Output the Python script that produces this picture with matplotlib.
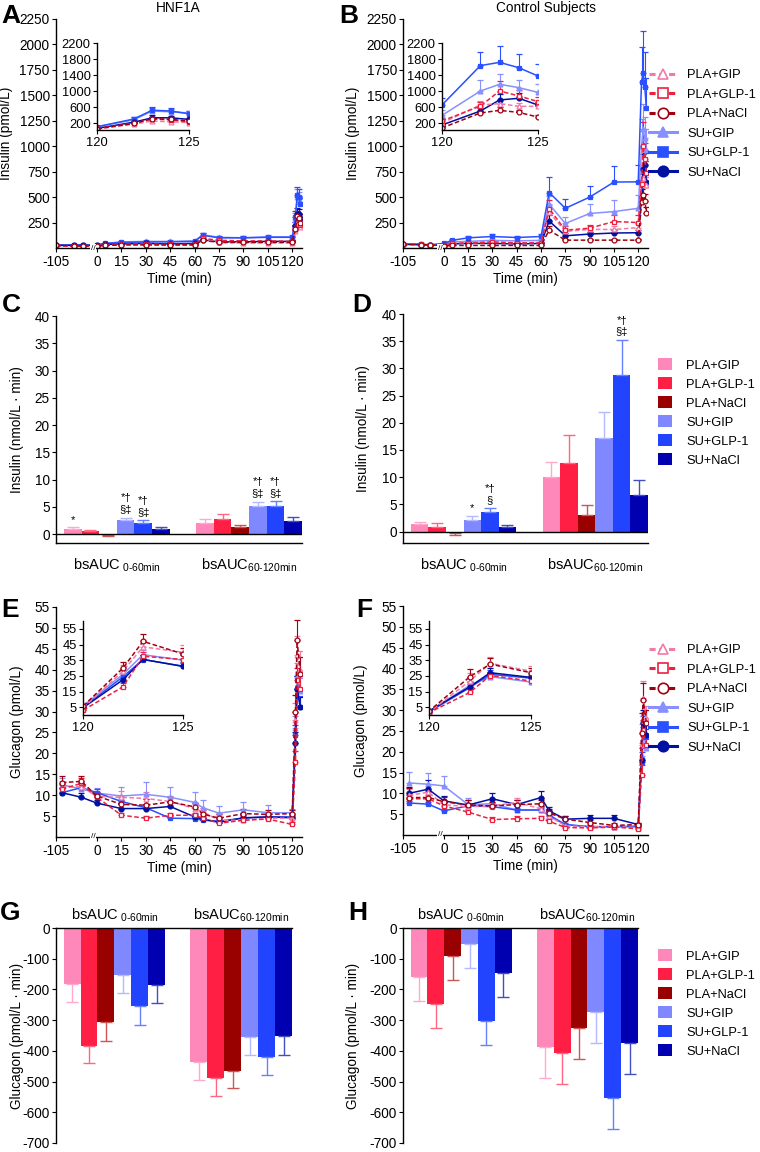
import numpy as np
import matplotlib
matplotlib.use("Agg")
import matplotlib.pyplot as plt
from matplotlib.lines import Line2D
from matplotlib.patches import Patch

plt.rcParams['font.family'] = ['Liberation Sans', 'DejaVu Sans']
plt.rcParams['mathtext.fontset'] = 'custom'
plt.rcParams['mathtext.rm'] = 'Liberation Sans'
plt.rcParams['mathtext.it'] = 'Liberation Sans'
plt.rcParams['font.size'] = 9.8
plt.rcParams['axes.linewidth'] = 1.0
plt.rcParams['axes.unicode_minus'] = False
plt.rcParams['xtick.major.size'] = 3
plt.rcParams['ytick.major.size'] = 3
plt.rcParams['xtick.major.pad'] = 2
plt.rcParams['ytick.major.pad'] = 1.5

W, H = 760, 1152

# groups and styles
groups = ["PLA+GIP", "PLA+GLP-1", "PLA+NaCl", "SU+GIP", "SU+GLP-1", "SU+NaCl"]
bar_colors = ["#ff88bb", "#ff1f44", "#990000", "#8088ff", "#2244ff", "#0000b0"]
err_colors = ["#ffaacc", "#ff6680", "#cc5555", "#b4baff", "#6680ff", "#4050c0"]
line_colors = ["#f27aa8", "#ee2040", "#a00010", "#8890ff", "#2a50ff", "#0010a0"]
markers = ["^", "s", "o", "^", "s", "o"]

# time points (min)
t_ins = [-105, -60, -35, 0, 5, 15, 30, 45, 60, 65, 75, 90, 105, 120, 122, 123, 124, 125]
t_glu = [-90, -40, 0, 15, 30, 45, 60, 65, 75, 90, 105, 120, 122, 123, 125]
time_ticks = [-105, 0, 15, 30, 45, 60, 75, 90, 105, 120]

# A: insulin, HNF1A (pmol/L)
ins_hnf1a = {
    "PLA+GIP":   [25, 20, 20, 20, 30, 35, 35, 30, 30, 90, 55, 50, 50, 50, 170, 250, 230, 210],
    "PLA+GLP-1": [25, 20, 20, 20, 30, 35, 40, 35, 35, 95, 75, 70, 70, 65, 190, 300, 280, 230],
    "PLA+NaCl":  [25, 20, 20, 20, 25, 30, 30, 30, 30, 75, 55, 55, 55, 55, 190, 310, 290, 250],
    "SU+GIP":    [30, 30, 30, 30, 45, 60, 65, 65, 70, 130, 105, 100, 110, 110, 280, 500, 480, 450],
    "SU+GLP-1":  [30, 30, 30, 30, 45, 55, 60, 60, 65, 125, 100, 100, 105, 105, 300, 520, 500, 430],
    "SU+NaCl":   [25, 25, 25, 25, 35, 40, 45, 40, 45, 80, 60, 60, 65, 65, 220, 330, 330, 290],
}
ins_hnf1a_err = {
    "PLA+GIP":   [5, 5, 5, 5, 5, 5, 5, 5, 5, 15, 10, 10, 10, 10, 40, 60, 50, 40],
    "PLA+GLP-1": [5, 5, 5, 5, 5, 5, 5, 5, 5, 20, 10, 10, 10, 10, 40, 60, 50, 50],
    "PLA+NaCl":  [5, 5, 5, 5, 5, 5, 5, 5, 5, 15, 10, 10, 10, 10, 40, 50, 40, 40],
    "SU+GIP":    [5, 5, 5, 5, 8, 10, 10, 10, 10, 20, 15, 15, 15, 15, 60, 80, 70, 60],
    "SU+GLP-1":  [5, 5, 5, 5, 8, 10, 10, 10, 10, 20, 15, 15, 15, 15, 60, 80, 80, 60],
    "SU+NaCl":   [5, 5, 5, 5, 5, 5, 5, 5, 5, 10, 10, 10, 10, 10, 40, 60, 50, 40],
}

# B: insulin, control subjects (pmol/L)
ins_ctrl = {
    "PLA+GIP":   [38, 35, 30, 30, 45, 50, 55, 50, 55, 350, 163, 183, 182, 200, 650, 685, 617, 617],
    "PLA+GLP-1": [38, 35, 30, 30, 45, 50, 60, 50, 50, 387, 175, 195, 260, 250, 625, 1000, 877, 735],
    "PLA+NaCl":  [35, 33, 30, 20, 25, 25, 25, 25, 25, 175, 77, 77, 77, 77, 450, 516, 465, 348],
    "SU+GIP":    [38, 36, 32, 40, 60, 65, 75, 70, 75, 430, 241, 339, 358, 390, 1000, 1168, 1084, 966],
    "SU+GLP-1":  [38, 36, 30, 45, 75, 100, 113, 103, 113, 545, 390, 500, 648, 650, 1635, 1716, 1582, 1375],
    "SU+NaCl":   [35, 33, 30, 25, 40, 45, 45, 40, 45, 265, 120, 137, 147, 150, 500, 776, 818, 650],
}
ins_ctrl_err = {
    "PLA+GIP":   [5, 5, 5, 5, 8, 8, 10, 8, 8, 70, 30, 30, 30, 40, 100, 100, 80, 80],
    "PLA+GLP-1": [5, 5, 5, 5, 8, 8, 10, 8, 8, 80, 40, 30, 60, 70, 100, 240, 150, 120],
    "PLA+NaCl":  [5, 5, 5, 5, 5, 5, 5, 5, 5, 40, 15, 15, 15, 15, 60, 80, 70, 50],
    "SU+GIP":    [5, 5, 5, 5, 8, 10, 15, 10, 10, 80, 60, 90, 110, 130, 270, 250, 200, 200],
    "SU+GLP-1":  [5, 5, 5, 8, 12, 15, 25, 15, 20, 155, 90, 110, 160, 170, 340, 420, 340, 300],
    "SU+NaCl":   [5, 5, 5, 5, 5, 5, 8, 5, 5, 60, 25, 25, 25, 30, 80, 150, 120, 80],
}

# E: glucagon, HNF1A (pmol/L)
glu_hnf1a = {
    "PLA+GIP":   [12.0, 12.0, 9.7, 9.5, 9.2, 8.5, 6.8, 6.0, 4.0, 4.0, 4.5, 4.5, 28.0, 43.5, 40.0],
    "PLA+GLP-1": [11.5, 12.8, 9.5, 5.2, 4.5, 5.2, 5.2, 4.5, 3.3, 4.0, 4.3, 3.0, 18.0, 37.5, 35.4],
    "PLA+NaCl":  [13.0, 13.3, 9.8, 7.8, 7.6, 8.4, 7.2, 5.5, 4.5, 5.6, 5.4, 5.6, 30.0, 47.0, 39.0],
    "SU+GIP":    [12.5, 11.5, 10.5, 9.8, 10.2, 9.5, 8.3, 7.0, 5.7, 6.5, 5.8, 5.8, 26.0, 38.5, 35.0],
    "SU+GLP-1":  [10.6, 11.8, 10.6, 8.5, 7.0, 4.5, 4.4, 4.0, 3.8, 4.5, 4.8, 4.8, 24.4, 35.4, 31.2],
    "SU+NaCl":   [10.6, 9.5, 8.1, 6.8, 6.8, 7.3, 4.8, 4.3, 3.5, 4.6, 4.8, 4.6, 22.5, 35.5, 31.0],
}
glu_hnf1a_err = {
    "PLA+GIP":   [1.5, 1.2, 1.0, 1.5, 1.5, 1.2, 1.0, 1.0, 1.0, 1.0, 1.0, 1.0, 4.0, 4.5, 4.5],
    "PLA+GLP-1": [1.2, 1.2, 0.8, 0.6, 0.5, 0.6, 0.6, 0.6, 0.5, 0.5, 0.5, 0.5, 2.5, 3.0, 3.0],
    "PLA+NaCl":  [1.5, 1.2, 1.0, 1.0, 1.5, 1.2, 1.0, 1.0, 1.0, 1.0, 1.0, 0.8, 4.0, 5.0, 4.0],
    "SU+GIP":    [1.5, 1.5, 1.2, 2.2, 3.0, 2.5, 2.4, 1.8, 1.8, 1.8, 1.8, 1.0, 3.0, 3.0, 3.0],
    "SU+GLP-1":  [1.0, 1.0, 0.8, 1.0, 1.0, 0.6, 0.5, 0.5, 0.5, 0.5, 0.5, 0.5, 2.5, 3.0, 2.5],
    "SU+NaCl":   [1.0, 1.0, 0.8, 1.0, 1.0, 1.0, 0.8, 0.6, 0.6, 0.6, 0.6, 0.5, 2.5, 3.0, 2.5],
}

# F: glucagon, control subjects (pmol/L)
glu_ctrl = {
    "PLA+GIP":   [9.5, 10.3, 7.3, 6.8, 7.0, 7.8, 6.3, 4.5, 2.2, 2.0, 2.0, 1.8, 21.7, 33.0, 28.0],
    "PLA+GLP-1": [8.7, 8.7, 7.0, 5.5, 3.7, 3.9, 4.0, 3.3, 1.8, 1.7, 1.9, 1.5, 14.4, 25.2, 21.7],
    "PLA+NaCl":  [9.0, 9.0, 8.0, 7.2, 7.0, 7.3, 7.5, 5.3, 3.8, 3.0, 2.3, 2.5, 24.4, 32.5, 27.0],
    "SU+GIP":    [12.5, 12.2, 11.8, 7.3, 7.5, 6.0, 6.0, 4.5, 2.5, 2.0, 2.0, 2.2, 19.0, 24.5, 21.0],
    "SU+GLP-1":  [7.7, 7.4, 5.8, 7.0, 6.8, 6.0, 6.0, 4.8, 2.5, 2.0, 2.0, 2.0, 17.5, 26.0, 23.5],
    "SU+NaCl":   [10.0, 11.0, 8.2, 7.2, 8.7, 7.3, 9.0, 5.8, 3.8, 4.0, 4.0, 2.5, 18.0, 27.0, 24.0],
}
glu_ctrl_err = {
    "PLA+GIP":   [1.5, 1.5, 1.0, 1.0, 1.0, 1.2, 1.0, 1.0, 0.6, 0.5, 0.5, 0.5, 5.0, 4.0, 3.0],
    "PLA+GLP-1": [1.0, 1.0, 0.8, 0.7, 0.6, 0.6, 0.6, 0.6, 0.5, 0.5, 0.5, 0.4, 2.5, 2.5, 2.0],
    "PLA+NaCl":  [2.4, 1.5, 1.2, 1.2, 1.0, 1.2, 1.0, 1.0, 0.8, 0.6, 0.6, 0.5, 5.0, 4.0, 3.0],
    "SU+GIP":    [2.7, 2.6, 2.3, 1.5, 1.2, 1.0, 1.0, 1.0, 0.8, 0.5, 0.5, 0.5, 3.0, 3.0, 3.0],
    "SU+GLP-1":  [0.5, 0.5, 0.5, 0.8, 0.8, 0.6, 0.6, 0.6, 0.5, 0.5, 0.5, 0.4, 2.5, 2.5, 2.0],
    "SU+NaCl":   [1.5, 2.2, 1.2, 1.2, 1.5, 1.2, 1.6, 1.0, 0.8, 0.8, 0.8, 0.5, 3.0, 3.0, 3.0],
}

# bsAUC bars: [0-60 min, 60-120 min]
auc_labels = [r'bsAUC$_{\ \mathregular{0‐60min}}$', r'bsAUC$_{\mathregular{60‐120min}}$']
auc_ins_hnf1a = {"PLA+GIP": [1.0, 2.1], "PLA+GLP-1": [0.6, 2.8], "PLA+NaCl": [-0.1, 1.2],
                 "SU+GIP": [2.6, 5.1], "SU+GLP-1": [2.1, 5.1], "SU+NaCl": [0.85, 2.45]}
auc_ins_hnf1a_err = {"PLA+GIP": [0.2, 0.6], "PLA+GLP-1": [0.15, 0.8], "PLA+NaCl": [0.2, 0.45],
                     "SU+GIP": [0.4, 0.8], "SU+GLP-1": [0.4, 0.9], "SU+NaCl": [0.45, 0.6]}
auc_ins_ctrl = {"PLA+GIP": [1.35, 10.0], "PLA+GLP-1": [0.9, 12.6], "PLA+NaCl": [-0.3, 3.0],
                "SU+GIP": [2.2, 17.2], "SU+GLP-1": [3.55, 28.8], "SU+NaCl": [0.8, 6.8]}
auc_ins_ctrl_err = {"PLA+GIP": [0.35, 2.7], "PLA+GLP-1": [0.6, 5.1], "PLA+NaCl": [0.4, 1.8],
                    "SU+GIP": [0.6, 4.8], "SU+GLP-1": [0.75, 6.4], "SU+NaCl": [0.35, 2.6]}
auc_glu_hnf1a = {"PLA+GIP": [-182, -436], "PLA+GLP-1": [-383, -489], "PLA+NaCl": [-307, -464],
                 "SU+GIP": [-152, -355], "SU+GLP-1": [-255, -421], "SU+NaCl": [-185, -353]}
auc_glu_hnf1a_err = {"PLA+GIP": [59, 59], "PLA+GLP-1": [58, 58], "PLA+NaCl": [60, 56],
                     "SU+GIP": [60, 58], "SU+GLP-1": [61, 58], "SU+NaCl": [60, 60]}
auc_glu_ctrl = {"PLA+GIP": [-161, -388], "PLA+GLP-1": [-247, -408], "PLA+NaCl": [-92, -325],
                "SU+GIP": [-51, -273], "SU+GLP-1": [-303, -553], "SU+NaCl": [-148, -373]}
auc_glu_ctrl_err = {"PLA+GIP": [78, 100], "PLA+GLP-1": [78, 101], "PLA+NaCl": [77, 102],
                    "SU+GIP": [78, 102], "SU+GLP-1": [77, 102], "SU+NaCl": [77, 102]}

# significance marks: (group, interval index, text)
sig_C = [("PLA+GIP", 0, "*"), ("SU+GIP", 0, "*†\n§‡"), ("SU+GLP-1", 0, "*†\n§‡"),
         ("SU+GIP", 1, "*†\n§‡"), ("SU+GLP-1", 1, "*†\n§‡")]
sig_D = [("SU+GIP", 0, "*"), ("SU+GLP-1", 0, "*†\n§"), ("SU+GLP-1", 1, "*†\n§‡")]


def rect(l, t, r, b):
    return [l / W, 1 - b / H, (r - l) / W, (b - t) / H]


def fwd(t):
    t = np.asarray(t, dtype=float)
    return np.where(t < 0, t * 0.24, t)


def inv(u):
    u = np.asarray(u, dtype=float)
    return np.where(u < 0, u / 0.24, u)


def plain_spines(ax):
    ax.spines['top'].set_visible(False)
    ax.spines['right'].set_visible(False)


def draw_lines(ax, t, data, err, ms=3.5, cap=2):
    order = [3, 4, 5, 0, 1, 2]
    for i in order:
        name = groups[i]
        y = np.array(data[name], dtype=float)
        e = np.array(err[name], dtype=float)
        pla = name.startswith("PLA")
        ax.errorbar(t, y, yerr=[np.zeros_like(e), e], color=line_colors[i],
                    ecolor=line_colors[i], elinewidth=0.8, capsize=cap, capthick=0.8,
                    lw=1.1, ls='--' if pla else '-', dashes=(3, 1.6) if pla else (None, None),
                    marker=markers[i], ms=ms, mfc='white' if pla else line_colors[i],
                    mec=line_colors[i], mew=0.9)


def line_panel(box, t, data, err, yticks, ylim, ylabel, label_x, inset_box, inset_ticks, inset_ylim):
    ax = fig.add_axes(rect(*box))
    plain_spines(ax)
    ax.set_xscale('function', functions=(fwd, inv))
    draw_lines(ax, t, data, err)
    ax.set_xlim(-105, 126)
    ax.set_ylim(*ylim)
    ax.set_xticks(time_ticks)
    ax.set_xticklabels([str(v) for v in time_ticks])
    ax.set_yticks(yticks)
    ax.set_xlabel("Time (min)", labelpad=2)
    ax.set_ylabel(ylabel)
    ax.yaxis.set_label_coords(label_x, 0.5)
    ax.text(-10, 0, "//", transform=ax.get_xaxis_transform(), ha='center', va='center',
            fontsize=6, clip_on=False, zorder=5,
            bbox=dict(facecolor='white', edgecolor='none', pad=0.3))
    ins = fig.add_axes(rect(*inset_box))
    ins.patch.set_alpha(0)
    plain_spines(ins)
    draw_lines(ins, t, data, err, ms=3.5, cap=2)
    ins.set_xlim(120, 125)
    ins.set_ylim(*inset_ylim)
    ins.set_xticks([120, 125])
    ins.set_yticks(inset_ticks)
    ins.tick_params(labelsize=9.3)
    return ax


def bar_panel(box, vals, errs, ylim, yticks, ylabel, label_x, top_axis=False):
    ax = fig.add_axes(rect(*box))
    for i, name in enumerate(groups):
        xs = [i, i + 7.5]
        v = np.array(vals[name], dtype=float)
        e = np.array(errs[name], dtype=float)
        lo = np.where(v < 0, e, 0)
        hi = np.where(v >= 0, e, 0)
        ax.bar(xs, v, width=1.0, color=bar_colors[i], linewidth=0,
               yerr=[lo, hi], error_kw=dict(ecolor=err_colors[i], elinewidth=1.0,
                                            capsize=4, capthick=1.0))
    ax.set_xlim(-0.95, 13.0)
    ax.set_ylim(*ylim)
    ax.set_yticks(yticks)
    ax.set_xticks([2.5, 10.0])
    ax.set_xticklabels(auc_labels, fontsize=10.5)
    ax.set_ylabel(ylabel)
    ax.yaxis.set_label_coords(label_x, 0.5)
    ax.spines['right'].set_visible(False)
    if top_axis:
        ax.spines['bottom'].set_visible(False)
        ax.xaxis.tick_top()
        ax.tick_params(axis='x', length=0, pad=3)
    else:
        ax.spines['top'].set_visible(False)
        ax.axhline(0, color='black', lw=1.0)
        ax.tick_params(axis='x', length=0, pad=10)
    return ax


def annotate_sig(ax, vals, errs, marks):
    for name, k, txt in marks:
        i = groups.index(name)
        x = i + 7.5 * k
        top = vals[name][k] + errs[name][k]
        ax.annotate(txt, xy=(x, top), xytext=(0, 2), textcoords='offset points',
                    ha='center', va='bottom', fontsize=8, linespacing=1.2)


fig = plt.figure(figsize=(W / 100, H / 100), dpi=100)

# A and B: insulin curves
line_panel((56, 19, 302, 248), t_ins, ins_hnf1a, ins_hnf1a_err, np.arange(250, 2251, 250),
           (0, 2250), "Insulin (pmol/L)", -0.175, (97, 43, 189, 130),
           [200, 600, 1000, 1400, 1800, 2200], (25, 2200))
line_panel((403, 19, 648, 248), t_ins, ins_ctrl, ins_ctrl_err, np.arange(250, 2251, 250),
           (0, 2250), "Insulin (pmol/L)", -0.176, (442, 43, 538, 130),
           [200, 600, 1000, 1400, 1800, 2200], (25, 2200))

# E and F: glucagon curves
line_panel((56, 607, 302, 837), t_glu, glu_hnf1a, glu_hnf1a_err, np.arange(5, 56, 5),
           (0, 55), "Glucagon (pmol/L)", -0.13, (83, 621, 183, 715),
           [5, 15, 25, 35, 45, 55], (0, 60))
line_panel((403, 606, 648, 835), t_glu, glu_ctrl, glu_ctrl_err, np.arange(5, 56, 5),
           (0, 55), "Glucagon (pmol/L)", -0.143, (429, 621, 531, 715),
           [5, 15, 25, 35, 45, 55], (0, 60))

# C and D: insulin bsAUC
axC = bar_panel((56, 316, 302, 543), auc_ins_hnf1a, auc_ins_hnf1a_err, (-1.65, 40),
                np.arange(0, 41, 5), "Insulin (nmol/L · min)", -0.13)
annotate_sig(axC, auc_ins_hnf1a, auc_ins_hnf1a_err, sig_C)
axD = bar_panel((403, 314, 648, 543), auc_ins_ctrl, auc_ins_ctrl_err, (-2.1, 40),
                np.arange(0, 41, 5), "Insulin (nmol/L · min)", -0.135)
annotate_sig(axD, auc_ins_ctrl, auc_ins_ctrl_err, sig_D)

# G and H: glucagon bsAUC
bar_panel((56, 928, 292, 1143), auc_glu_hnf1a, auc_glu_hnf1a_err, (-700, 0),
          np.arange(-700, 1, 100), "Glucagon (pmol/L · min)", -0.136, top_axis=True)
bar_panel((403, 928, 638, 1143), auc_glu_ctrl, auc_glu_ctrl_err, (-700, 0),
          np.arange(-700, 1, 100), "Glucagon (pmol/L · min)", -0.183, top_axis=True)

# legends
line_handles = []
for i, name in enumerate(groups):
    pla = name.startswith("PLA")
    line_handles.append(Line2D([], [], color=line_colors[i], lw=2.2,
                               ls='--' if pla else '-', dashes=(2, 1.2) if pla else (None, None),
                               marker=markers[i], ms=7.5,
                               mfc='white' if pla else line_colors[i], mec=line_colors[i], mew=1.2))
bar_handles = [Patch(facecolor=c, edgecolor='none') for c in bar_colors]

for top in (69, 644):
    fig.legend(line_handles, groups, loc='upper left', bbox_to_anchor=(649 / W, 1 - top / H),
               frameon=False, handlelength=2.2, handletextpad=0.75, labelspacing=0.58,
               borderaxespad=0, borderpad=0, fontsize=9.3)
for top in (358, 949):
    fig.legend(bar_handles, groups, loc='upper left', bbox_to_anchor=(658 / W, 1 - top / H),
               frameon=False, handlelength=1.1, handleheight=1.1, handletextpad=1.1,
               labelspacing=0.42, borderaxespad=0, borderpad=0, fontsize=9.3)

# titles and panel letters
fig.text(178 / W, 1 - 8 / H, "HNF1A", ha='center', va='center', fontsize=9.8)
fig.text(546 / W, 1 - 8 / H, "Control Subjects", ha='center', va='center', fontsize=9.8)
for letter, x, y in [("A", 11, 16), ("B", 349, 16), ("C", 11, 305), ("D", 362, 305),
                     ("E", 10, 610), ("F", 364, 610), ("G", 10, 913), ("H", 358, 913)]:
    fig.text(x / W, 1 - y / H, letter, ha='center', va='center', fontsize=19, fontweight='bold')

fig.savefig("out.png", dpi=100)
